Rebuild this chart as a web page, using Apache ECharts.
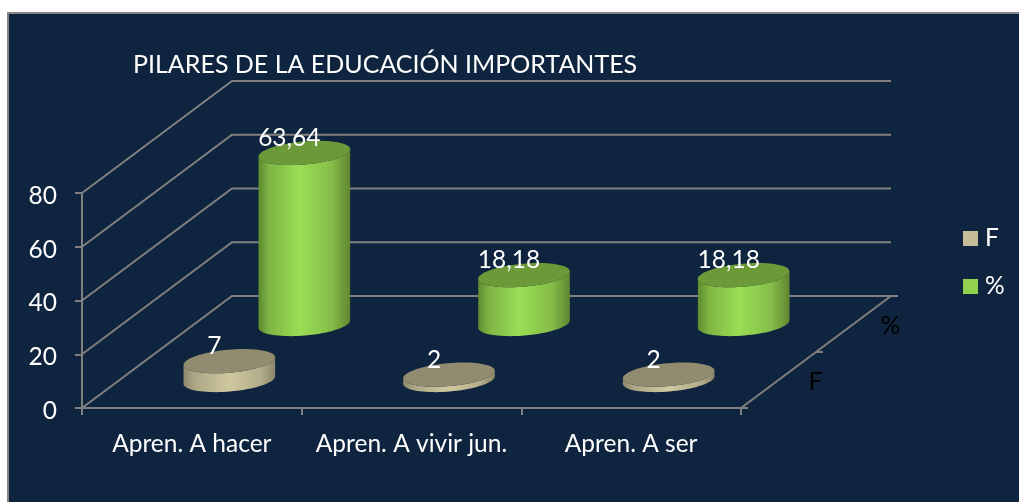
<!DOCTYPE html>
<html>
<head>
<meta charset="utf-8">
<script src="https://cdn.jsdelivr.net/npm/echarts@6/dist/echarts.min.js"></script>
<style>html,body{margin:0;padding:0;background:#fff}#c{width:1019px;height:502px}</style>
</head>
<body>
<div id="c"></div>
<script>
const titleText = 'PILARES DE LA EDUCACIÓN IMPORTANTES';
const categories = ['Apren. A hacer', 'Apren. A vivir jun.', 'Apren. A ser'];
const seriesF = [7, 2, 2];
const seriesPct = [63.64, 18.18, 18.18];
const yTicks = [0, 20, 40, 60, 80];
const depthNames = ['F', '%'];

const FONT = 'Lato';
const TEXT_SIZE = 24.5;
const LINE = '#808080';
const LINE_W = 2;
const DEPTH_X = 150, DEPTH_Y = -112;   // oblique projection of the full depth
const RADIUS_A = 46, RADIUS_B = 11.5, TILT = -5 * Math.PI / 180;

function arc(cx, cy, from, to, n) {
  const pts = [];
  for (let i = 0; i <= n; i++) {
    const t = from + (to - from) * i / n;
    const ca = RADIUS_A * Math.cos(t), cb = RADIUS_B * Math.sin(t);
    pts.push([cx + ca * Math.cos(TILT) - cb * Math.sin(TILT),
              cy + ca * Math.sin(TILT) + cb * Math.cos(TILT)]);
  }
  return pts;
}

function hGrad(stops) {
  return { type: 'linear', x: 0, y: 0, x2: 1, y2: 0,
    colorStops: stops.map(s => ({ offset: s[0], color: s[1] })) };
}

function cylinderSeries(name, values, depth, legendColor, topColor, stops) {
  return {
    type: 'custom', name, clip: false, silent: true,
    itemStyle: { color: legendColor },
    encode: { x: 0, y: 1 },
    data: values.map((v, i) => [i, v]),
    renderItem(params, api) {
      const cat = api.value(0), val = api.value(1);
      const b = api.coord([cat, 0]), t = api.coord([cat, val]);
      const ox = DEPTH_X * depth, oy = DEPTH_Y * depth;
      const cx = b[0] + ox, by = b[1] + oy, ty = t[1] + oy;
      const lower = arc(cx, by, 0, Math.PI, 40);
      const upper = arc(cx, ty, Math.PI, 0, 40);
      return { type: 'group', children: [
        { type: 'polygon', shape: { points: lower.concat(upper) }, style: { fill: hGrad(stops) } },
        { type: 'polygon', shape: { points: arc(cx, ty, 0, Math.PI * 2, 80) }, style: { fill: topColor } },
        { type: 'text', style: { text: String(val).replace('.', ','), x: cx - 15, y: ty - 15,
            fill: '#fff', fontFamily: FONT, fontSize: TEXT_SIZE, align: 'center', verticalAlign: 'middle' } }
      ]};
    }
  };
}

const wallSeries = {
  type: 'custom', clip: false, silent: true, z: 1,
  encode: { x: 0, y: 1 },
  data: yTicks.map(v => [0, v]),
  renderItem(params, api) {
    const val = api.value(1);
    const y = api.coord([0, val])[1];
    const leftX = params.coordSys.x;
    const rightX = leftX + params.coordSys.width;
    const lineStyle = { stroke: LINE, lineWidth: LINE_W, fill: null };
    const children = [{ type: 'polyline', style: lineStyle, shape: { points: [
      [leftX, y], [leftX + DEPTH_X, y + DEPTH_Y], [rightX + DEPTH_X, y + DEPTH_Y]
    ]}}];
    if (val === 0) {
      const fx = rightX, fy = y;
      children.push({ type: 'line', style: lineStyle, shape: { x1: fx, y1: fy, x2: fx + DEPTH_X, y2: fy + DEPTH_Y } });
      [0, 0.5, 1].forEach(d => children.push({ type: 'line', style: lineStyle, shape: {
        x1: fx + DEPTH_X * d, y1: fy + DEPTH_Y * d, x2: fx + DEPTH_X * d + 7, y2: fy + DEPTH_Y * d } }));
      depthNames.forEach((n, i) => {
        const d = (i + 0.5) / depthNames.length;
        children.push({ type: 'text', style: { text: n, x: fx + DEPTH_X * d + 37, y: fy + DEPTH_Y * d + 2,
          fill: '#000', fontFamily: FONT, fontSize: TEXT_SIZE, align: 'center', verticalAlign: 'middle' } });
      });
    }
    return { type: 'group', children };
  }
};

const chart = echarts.init(document.getElementById('c'), null, { renderer: 'canvas' });
chart.setOption({
  animation: false,
  backgroundColor: '#ffffff',
  graphic: [{ type: 'rect', z: -10, silent: true,
    shape: { x: 8, y: 13, width: 1100, height: 600 },
    style: { fill: '#0f243e', stroke: '#868686', lineWidth: 2 } }],
  title: { text: titleText, left: 133, top: 52, padding: 0,
    textStyle: { color: '#fff', fontFamily: FONT, fontSize: 25, fontWeight: 'normal' } },
  legend: { orient: 'vertical', left: 963, top: 226, itemWidth: 15, itemHeight: 15, itemGap: 23, icon: 'rect',
    selectedMode: false, data: ['F', '%'], padding: 0, itemStyle: { borderWidth: 0 },
    textStyle: { color: '#fff', fontFamily: FONT, fontSize: TEXT_SIZE, padding: [0, 0, 0, 2] } },
  grid: { left: 82, top: 193, width: 659, height: 215, containLabel: false },
  xAxis: { type: 'category', data: categories,
    axisLine: { lineStyle: { color: LINE, width: LINE_W } },
    axisTick: { show: true, interval: 0, alignWithLabel: false, length: 7, lineStyle: { color: LINE, width: LINE_W } },
    axisLabel: { color: '#fff', fontFamily: FONT, fontSize: TEXT_SIZE, margin: 24, interval: 0 },
    splitLine: { show: false } },
  yAxis: { type: 'value', min: 0, max: 80, interval: 20,
    axisLine: { show: true, lineStyle: { color: LINE, width: LINE_W } },
    axisTick: { show: true, length: 7, lineStyle: { color: LINE, width: LINE_W } },
    axisLabel: { color: '#fff', fontFamily: FONT, fontSize: TEXT_SIZE, margin: 25, verticalAlign: 'top', lineHeight: 6, showMinLabel: true, showMaxLabel: true },
    splitLine: { show: false } },
  series: [
    wallSeries,
    Object.assign(cylinderSeries('%', seriesPct, 0.75, '#92d050', '#6d9a39',
      [[0, '#5d8a2e'], [0.12, '#7fb544'], [0.45, '#99de55'], [0.8, '#86bd49'], [1, '#5f8730']]), { z: 2 }),
    Object.assign(cylinderSeries('F', seriesF, 0.25, '#c4bd97', '#918c6f',
      [[0, '#8e8a6c'], [0.12, '#aca686'], [0.5, '#cfc89f'], [0.85, '#b3ad8c'], [1, '#8a8669']]), { z: 3 })
  ]
});
</script>
</body>
</html>
